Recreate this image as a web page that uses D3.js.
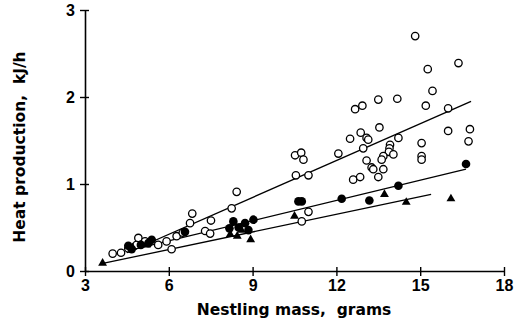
<!DOCTYPE html>
<html>
<head>
<meta charset="utf-8">
<script src="https://cdn.jsdelivr.net/npm/d3@7"></script>
<style>
  html, body { margin: 0; padding: 0; background: #fff; }
  svg { display: block; }
  .tick text { font-family: "Liberation Sans", Arial, sans-serif; font-weight: bold; font-size: 16px; fill: #000; }
  .label { font-family: "DejaVu Sans", sans-serif; font-weight: bold; font-size: 15.5px; fill: #000; }
</style>
</head>
<body>
<svg id="chart" width="525" height="328"></svg>
<script>
// open circles: mass (g), heat production (kJ/h)
const openMass = [3.99, 4.29, 4.55, 4.85, 4.91, 5.15, 5.62, 5.92, 6.1, 6.28, 6.5, 6.76, 6.84,
  7.3, 7.48, 7.51, 8.25, 8.43,
  10.55, 11.0, 10.52, 10.74, 10.82, 11.0, 10.76,
  12.07, 12.49, 12.67, 12.93, 12.87, 13.08, 13.14, 12.96, 13.5, 14.18, 13.54, 14.22, 13.92, 13.9, 13.88,
  14.04, 13.68, 13.62, 13.08, 13.26, 13.32, 13.68, 13.5, 12.6, 12.85,
  14.82, 16.37, 15.27, 15.44, 15.2, 16.0, 16.0, 16.78, 16.73, 15.05, 15.05, 15.05];
const openHeat = [0.20, 0.21, 0.26, 0.30, 0.38, 0.34, 0.30, 0.34, 0.25, 0.40, 0.44, 0.55, 0.66,
  0.46, 0.43, 0.58, 0.72, 0.91,
  1.10, 1.10, 1.33, 1.36, 1.28, 0.68, 0.57,
  1.35, 1.52, 1.86, 1.90, 1.59, 1.53, 1.51, 1.41, 1.97, 1.98, 1.65, 1.53, 1.45, 1.41, 1.37,
  1.34, 1.32, 1.28, 1.27, 1.19, 1.17, 1.17, 1.08, 1.05, 1.08,
  2.70, 2.39, 2.32, 2.07, 1.90, 1.87, 1.61, 1.63, 1.49, 1.47, 1.32, 1.28];

// filled circles
const filledMass = [4.55, 4.67, 5.0, 5.27, 5.39, 6.58, 8.17, 8.31, 8.5, 8.73, 8.85, 9.03, 10.64, 10.76, 12.19, 13.18, 14.22, 16.64];
const filledHeat = [0.29, 0.25, 0.30, 0.32, 0.36, 0.45, 0.49, 0.57, 0.50, 0.55, 0.47, 0.59, 0.80, 0.80, 0.83, 0.81, 0.98, 1.23];

// filled triangles
const triMass = [3.63, 4.7, 5.2, 8.2, 8.45, 8.6, 8.93, 10.5, 13.72, 14.5, 16.1];
const triHeat = [0.09, 0.27, 0.30, 0.42, 0.40, 0.47, 0.36, 0.63, 0.88, 0.79, 0.83];

// fitted lines, [mass, heat] end points
const openFit = [[4.5, 0.21], [16.82, 1.95]];
const filledFit = [[4.5, 0.23], [16.64, 1.17]];
const triFit = [[3.68, 0.09], [15.39, 0.88]];

const xTicks = [3, 6, 9, 12, 15, 18];
const yTicks = [0, 1, 2, 3];

const svg = d3.select('#chart');

const x = d3.scaleLinear().domain([3, 18]).range([85, 504]);
const y = d3.scaleLinear().domain([0, 3]).range([271, 10]);

// axes
const gx = svg.append('g')
  .attr('transform', `translate(0,${y(0)})`)
  .call(d3.axisBottom(x).tickValues(xTicks).tickFormat(d3.format('d'))
    .tickSizeOuter(0).tickSizeInner(5).tickPadding(4));
gx.selectAll('.tick line').attr('y1', -4).attr('y2', 5);

const gy = svg.append('g')
  .attr('transform', `translate(${x(3)},0)`)
  .call(d3.axisLeft(y).tickValues(yTicks).tickFormat(d3.format('d'))
    .tickSizeOuter(0).tickSizeInner(5).tickPadding(5));
gy.selectAll('.tick line').attr('x1', -5).attr('x2', 4);

svg.selectAll('.domain').attr('stroke', '#000').attr('stroke-width', 1.6);
svg.selectAll('.tick line').attr('stroke', '#000').attr('stroke-width', 1.4);

// fit lines
const line = d3.line().x(d => x(d[0])).y(d => y(d[1]));
[openFit, filledFit, triFit].forEach(f => {
  svg.append('path')
    .attr('d', line(f))
    .attr('fill', 'none')
    .attr('stroke', '#000')
    .attr('stroke-width', 1.3);
});

// open circles
svg.append('g').selectAll('circle')
  .data(d3.zip(openMass, openHeat))
  .join('circle')
  .attr('cx', d => x(d[0]))
  .attr('cy', d => y(d[1]))
  .attr('r', 3.7)
  .attr('fill', '#fff')
  .attr('stroke', '#000')
  .attr('stroke-width', 1.3);

// filled circles
svg.append('g').selectAll('circle')
  .data(d3.zip(filledMass, filledHeat))
  .join('circle')
  .attr('cx', d => x(d[0]))
  .attr('cy', d => y(d[1]))
  .attr('r', 4.3)
  .attr('fill', '#000');

// triangles
const tri = d3.symbol().type(d3.symbolTriangle).size(34);
svg.append('g').selectAll('path')
  .data(d3.zip(triMass, triHeat))
  .join('path')
  .attr('d', tri)
  .attr('transform', d => `translate(${x(d[0])},${y(d[1])})`)
  .attr('fill', '#000');

// axis titles
svg.append('text')
  .attr('class', 'label')
  .attr('x', 294)
  .attr('y', 315)
  .attr('text-anchor', 'middle')
  .attr('xml:space', 'preserve')
  .text('Nestling mass,  grams');

svg.append('text')
  .attr('class', 'label')
  .attr('transform', 'translate(25,147) rotate(-90)')
  .attr('text-anchor', 'middle')
  .attr('xml:space', 'preserve')
  .text('Heat production,  kJ/h');
</script>
</body>
</html>
